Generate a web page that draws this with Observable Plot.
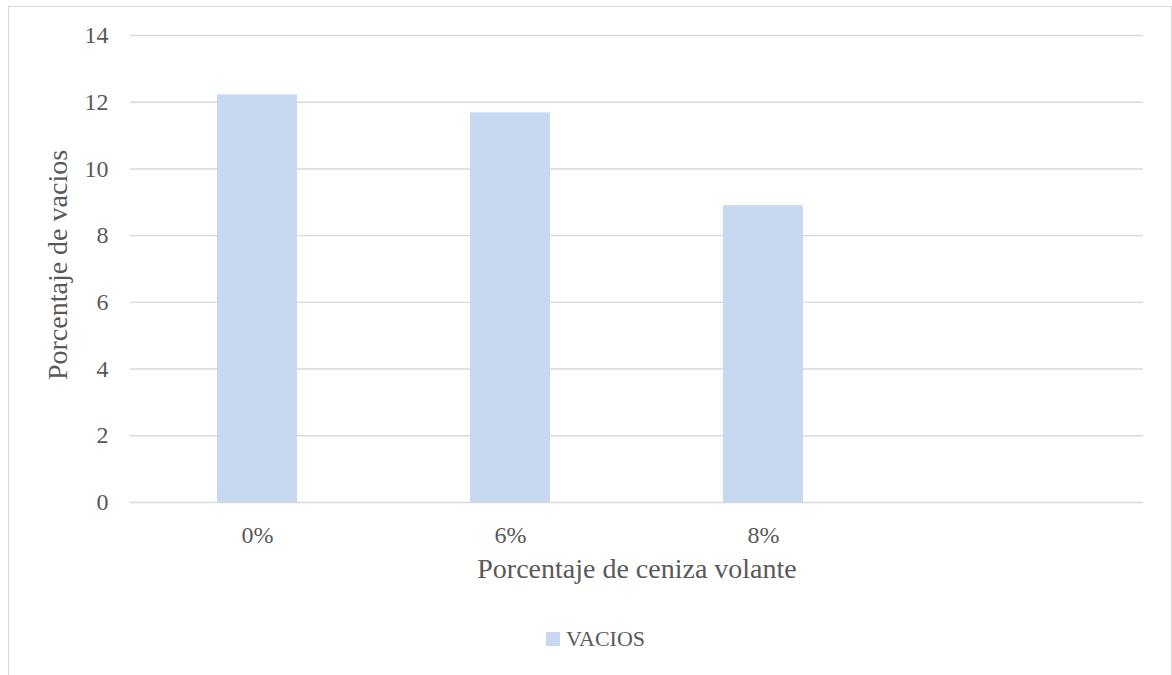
<!DOCTYPE html>
<html>
<head>
<meta charset="utf-8">
<script src="https://cdn.jsdelivr.net/npm/d3@7"></script>
<script src="https://cdn.jsdelivr.net/npm/@observablehq/plot@0.6"></script>
<style>
  html, body { margin: 0; padding: 0; background: #fff; }
  #wrap { position: relative; width: 1172px; height: 675px; overflow: hidden; font-family: "Liberation Serif", serif; color: #595959; }
  #frame { position: absolute; left: 8px; top: 6px; width: 1162px; height: 700px; border: 1px solid #d9d9d9; box-sizing: content-box; }
  #chart { position: absolute; left: 0; top: 0; }
  #legend { position: absolute; left: 546px; top: 626px; display: flex; align-items: center; font-size: 22px; }
  #legend .swatch { width: 14px; height: 14px; background: #C6D9F1; margin-right: 6px; }
</style>
</head>
<body>
<div id="wrap">
  <div id="frame"></div>
  <div id="chart"></div>
  <div id="legend"><span class="swatch"></span><span id="legend-label"></span></div>
</div>
<script>
// Porcentaje de vacíos según el contenido de ceniza volante
const categories = ["0%", "6%", "8%"];
const vacios = [12.22, 11.68, 8.90];
const slots = [...categories, ""];           // cuarta categoría vacía en el eje
const yTicks = [0, 2, 4, 6, 8, 10, 12, 14];

const seriesName = "VACIOS";
const xTitle = "Porcentaje de ceniza volante";
const yTitle = "Porcentaje de vacios";

const data = categories.map((c, i) => ({categoria: c, valor: vacios[i]}));

const ink = "#595959";
const barColor = "#C6D9F1";

const chart = Plot.plot({
  width: 1172,
  height: 600,
  marginLeft: 130,
  marginRight: 29,
  marginTop: 35,
  marginBottom: 98,
  style: {fontFamily: "'Liberation Serif', serif", fontSize: "24px", color: ink, background: "transparent"},
  x: {domain: slots, paddingInner: 0.684, paddingOuter: 0.342, label: null},
  y: {domain: [0, 14], label: null},
  marks: [
    Plot.gridY(yTicks, {stroke: "#d9d9d9", strokeOpacity: 1, strokeWidth: 1.4}),
    Plot.barY(data, {x: "categoria", y: "valor", fill: barColor}),
    Plot.axisY(yTicks, {tickSize: 0, tickPadding: 22, fontSize: 24, fill: ink, label: null}),
    Plot.axisX({tickSize: 0, tickPadding: 23, fontSize: 24, fill: ink, label: null}),
    Plot.text([xTitle], {frameAnchor: "bottom", textAnchor: "middle", lineAnchor: "top", dy: 56, fontSize: 28, fill: ink}),
    Plot.text([yTitle], {frameAnchor: "left", textAnchor: "middle", rotate: -90, dx: -72, dy: -4, fontSize: 28, fill: ink})
  ]
});

document.getElementById("chart").appendChild(chart);
document.getElementById("legend-label").textContent = seriesName;
</script>
</body>
</html>
